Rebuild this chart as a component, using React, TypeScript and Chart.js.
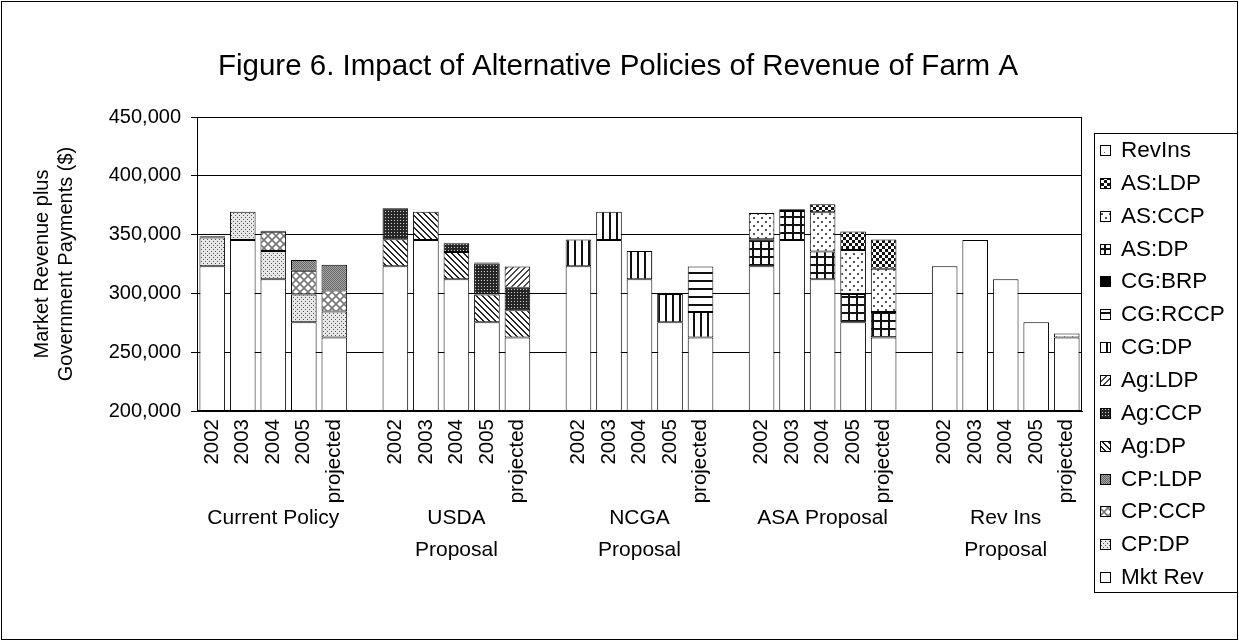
import React, { useEffect, useRef } from 'react';
import { Chart, registerables } from 'chart.js';

Chart.register(...registerables);

// ---------- data ----------
const years = ['2002', '2003', '2004', '2005', 'projected'];
const groupNames = [
  ['Current Policy'],
  ['USDA', 'Proposal'],
  ['NCGA', 'Proposal'],
  ['ASA Proposal'],
  ['Rev Ins', 'Proposal'],
];
const yTicks = [200000, 250000, 300000, 350000, 400000, 450000];
const chartTitle = 'Figure 6. Impact of Alternative Policies of Revenue of Farm A';
const yTitle = ['Market Revenue plus', 'Government Payments ($)'];

const mktRev = [323000, 345500, 312000, 275500, 262500];
const cpDP = [24500, 24000, 24000, 23500, 22200];
const cpCCP = [0, 0, 16500, 20300, 17800];
const cpLDP = [1000, 0, 700, 9000, 21800];
const agDP = [23100, 24000, 23100, 23500, 23100];
const agCCP = [26300, 0, 7600, 26500, 19200];
const agLDP = [0, 0, 0, 700, 18100];
const cgDP = [22900, 24000, 24000, 24000, 21700];
const cgRCCP = [0, 0, 0, 0, 38700];
const cgBRP = [0, 0, 0, 0, 0];
const asDP = [23100, 24500, 23700, 24000, 21700];
const asCCP = [22300, 1500, 33300, 37300, 36800];
const asLDP = [0, 0, 6800, 15800, 24800];
const revIns = [0, 0, 0, 0, 3300];

// series: label, values, groups in which it applies
const series = [
  { label: 'Mkt Rev', values: mktRev, groups: [0, 1, 2, 3, 4] },
  { label: 'CP:DP', values: cpDP, groups: [0] },
  { label: 'CP:CCP', values: cpCCP, groups: [0] },
  { label: 'CP:LDP', values: cpLDP, groups: [0] },
  { label: 'Ag:DP', values: agDP, groups: [1] },
  { label: 'Ag:CCP', values: agCCP, groups: [1] },
  { label: 'Ag:LDP', values: agLDP, groups: [1] },
  { label: 'CG:DP', values: cgDP, groups: [2] },
  { label: 'CG:RCCP', values: cgRCCP, groups: [2] },
  { label: 'CG:BRP', values: cgBRP, groups: [2] },
  { label: 'AS:DP', values: asDP, groups: [3] },
  { label: 'AS:CCP', values: asCCP, groups: [3] },
  { label: 'AS:LDP', values: asLDP, groups: [3] },
  { label: 'RevIns', values: revIns, groups: [4] },
];

const FONT = "'Liberation Sans', Arial, Helvetica, sans-serif";
const SLOT = years.length + 1;

function buildLabels(): string[] {
  const out: string[] = [];
  groupNames.forEach((_, g) => {
    years.forEach((y) => out.push(y));
    if (g < groupNames.length - 1) out.push('');
  });
  return out;
}

function toSlots(values: number[], groups: number[], n: number): (number | null)[] {
  const out: (number | null)[] = new Array(n).fill(null);
  groups.forEach((g) => {
    values.forEach((v, i) => {
      out[g * SLOT + i] = v ? v : null;
    });
  });
  return out;
}

// ---------- patterns ----------
function tile(ctx: CanvasRenderingContext2D, w: number, h: number, draw: (c: CanvasRenderingContext2D) => void) {
  const c = document.createElement('canvas');
  c.width = w;
  c.height = h;
  const x = c.getContext('2d')!;
  draw(x);
  return ctx.createPattern(c, 'repeat')!;
}

function makePatterns(ctx: CanvasRenderingContext2D): Record<string, any> {
  return {
    'Mkt Rev': '#ffffff',
    'CP:DP': tile(ctx, 4, 4, (c) => {
      c.fillStyle = '#e8e8e8';
      c.fillRect(0, 0, 4, 4);
      c.fillStyle = '#555';
      c.fillRect(1, 1, 1, 1);
      c.fillRect(3, 3, 1, 1);
    }),
    'CP:CCP': tile(ctx, 8, 8, (c) => {
      c.fillStyle = '#fff';
      c.fillRect(0, 0, 8, 8);
      c.strokeStyle = '#777';
      c.lineWidth = 1.6;
      c.beginPath();
      c.moveTo(0, 0); c.lineTo(8, 8);
      c.moveTo(8, 0); c.lineTo(0, 8);
      c.stroke();
    }),
    'CP:LDP': tile(ctx, 2, 2, (c) => {
      c.fillStyle = '#a6a6a6';
      c.fillRect(0, 0, 2, 2);
      c.fillStyle = '#666';
      c.fillRect(0, 0, 1, 1);
      c.fillRect(1, 1, 1, 1);
    }),
    'Ag:DP': tile(ctx, 6, 6, (c) => {
      c.fillStyle = '#fff';
      c.fillRect(0, 0, 6, 6);
      c.fillStyle = '#222';
      for (let i = 0; i < 6; i++) {
        c.fillRect(i, i, 1, 1);
        c.fillRect((i + 1) % 6, i, 1, 1);
      }
    }),
    'Ag:CCP': tile(ctx, 3, 3, (c) => {
      c.fillStyle = '#262626';
      c.fillRect(0, 0, 3, 3);
      c.fillStyle = '#d0d0d0';
      c.fillRect(1, 1, 1, 1);
    }),
    'Ag:LDP': tile(ctx, 6, 6, (c) => {
      c.fillStyle = '#fff';
      c.fillRect(0, 0, 6, 6);
      c.fillStyle = '#444';
      for (let i = 0; i < 6; i++) {
        c.fillRect(5 - i, i, 1, 1);
        c.fillRect((6 - i) % 6, i, 1, 1);
      }
    }),
    'CG:DP': tile(ctx, 7, 1, (c) => {
      c.fillStyle = '#fff';
      c.fillRect(0, 0, 7, 1);
      c.fillStyle = '#111';
      c.fillRect(0, 0, 2, 1);
    }),
    'CG:RCCP': tile(ctx, 1, 8, (c) => {
      c.fillStyle = '#fff';
      c.fillRect(0, 0, 1, 8);
      c.fillStyle = '#111';
      c.fillRect(0, 0, 1, 2);
    }),
    'CG:BRP': '#000000',
    'AS:DP': tile(ctx, 8, 8, (c) => {
      c.fillStyle = '#fff';
      c.fillRect(0, 0, 8, 8);
      c.fillStyle = '#111';
      c.fillRect(0, 0, 2, 8);
      c.fillRect(0, 0, 8, 2);
    }),
    'AS:CCP': tile(ctx, 8, 8, (c) => {
      c.fillStyle = '#fff';
      c.fillRect(0, 0, 8, 8);
      c.fillStyle = '#555';
      c.fillRect(1, 1, 2, 2);
      c.fillRect(5, 5, 2, 2);
    }),
    'AS:LDP': tile(ctx, 6, 6, (c) => {
      c.fillStyle = '#fff';
      c.fillRect(0, 0, 6, 6);
      c.fillStyle = '#111';
      c.fillRect(0, 0, 3, 3);
      c.fillRect(3, 3, 3, 3);
    }),
    RevIns: tile(ctx, 8, 8, (c) => {
      c.fillStyle = '#fff';
      c.fillRect(0, 0, 8, 8);
      c.fillStyle = '#666';
      c.fillRect(0, 0, 1, 1);
    }),
  };
}

// ---------- decoration plugin ----------
const decor = {
  id: 'decor',
  beforeDraw(chart: any) {
    const ctx = chart.ctx;
    ctx.save();
    ctx.fillStyle = '#ffffff';
    ctx.fillRect(0, 0, chart.width, chart.height);
    ctx.restore();
  },
  afterDraw(chart: any) {
    const ctx: CanvasRenderingContext2D = chart.ctx;
    const { left, top, right, bottom } = chart.chartArea;
    ctx.save();
    ctx.strokeStyle = '#000';
    ctx.lineWidth = 1;
    // plot border
    ctx.strokeRect(Math.round(left) + 0.5, Math.round(top) + 0.5, Math.round(right - left) - 1, Math.round(bottom - top) - 1);

    // title
    ctx.fillStyle = '#000';
    ctx.font = `29.5px ${FONT}`;
    ctx.textAlign = 'center';
    ctx.textBaseline = 'middle';
    ctx.fillText(chartTitle, 618, 67);

    // group labels
    const xs = chart.scales.x;
    ctx.font = `21px ${FONT}`;
    groupNames.forEach((lines, g) => {
      const cx = xs.getPixelForValue(g * SLOT + 2);
      lines.forEach((t, li) => ctx.fillText(t, cx, 518 + li * 32));
    });

    // legend
    const lx = 1094, ly = 133, lw = 1237 - 1094, lh = 592 - 133;
    ctx.strokeRect(lx + 0.5, ly + 0.5, lw, lh);
    const ds = chart.data.datasets;
    const n = ds.length;
    ctx.font = `22.5px ${FONT}`;
    ctx.textAlign = 'left';
    for (let k = 0; k < n; k++) {
      const d = ds[n - 1 - k];
      const cy = Math.round(150 + k * 32.85);
      ctx.fillStyle = d.backgroundColor;
      ctx.fillRect(1100, cy - 5, 10, 10);
      ctx.strokeRect(1100.5, cy - 4.5, 10, 10);
      ctx.fillStyle = '#000';
      ctx.fillText(d.label, 1121, cy + 1);
    }

    // outer border
    ctx.strokeRect(1.5, 1.5, chart.width - 3, chart.height - 3);
    ctx.restore();
  },
};

export default function App() {
  const ref = useRef<HTMLCanvasElement | null>(null);

  useEffect(() => {
    document.body.style.margin = '0';
    const canvas = ref.current!;
    const ctx = canvas.getContext('2d')!;
    const patterns = makePatterns(ctx);
    const labels = buildLabels();
    const datasets = series.map((s) => ({
      label: s.label,
      data: toSlots(s.values, s.groups, labels.length),
      backgroundColor: patterns[s.label],
      borderColor: '#000',
      borderWidth: 1,
      borderSkipped: false,
      barPercentage: 0.84,
      categoryPercentage: 1,
    }));

    const chart = new Chart(canvas, {
      type: 'bar',
      data: { labels, datasets },
      options: {
        responsive: false,
        animation: false,
        devicePixelRatio: 1,
        layout: { padding: { top: 117, right: 157, bottom: 0, left: 0 } },
        plugins: {
          legend: { display: false },
          title: { display: false },
          tooltip: { enabled: false },
        },
        scales: {
          x: {
            stacked: true,
            grid: { display: false, drawTicks: false },
            border: { display: true, color: '#000', width: 1 },
            ticks: {
              autoSkip: false,
              maxRotation: 90,
              minRotation: 90,
              color: '#000',
              padding: 8,
              font: { family: FONT, size: 20.5 },
            },
            afterFit: (s: any) => {
              s.height = 230;
            },
          },
          y: {
            stacked: true,
            min: yTicks[0],
            max: yTicks[yTicks.length - 1],
            afterBuildTicks: (s: any) => {
              s.ticks = yTicks.map((v) => ({ value: v }));
            },
            ticks: {
              color: '#000',
              padding: 10,
              font: { family: FONT, size: 20 },
              callback: (v: any) => Number(v).toLocaleString('en-US'),
            },
            grid: { color: '#000', lineWidth: 1, tickLength: 6, drawTicks: true, tickColor: '#000' },
            border: { display: true, color: '#000', width: 1 },
            title: {
              display: true,
              text: yTitle,
              color: '#000',
              font: { family: FONT, size: 20, lineHeight: 1.2 },
              padding: { top: 30, bottom: 0 },
            },
            afterFit: (s: any) => {
              s.width = 197;
            },
          },
        },
      },
      plugins: [decor],
    } as any);

    return () => chart.destroy();
  }, []);

  return (
    <div style={{ position: 'absolute', left: 0, top: 0 }}>
      <canvas ref={ref} width={1239} height={641} style={{ display: 'block' }} />
    </div>
  );
}
